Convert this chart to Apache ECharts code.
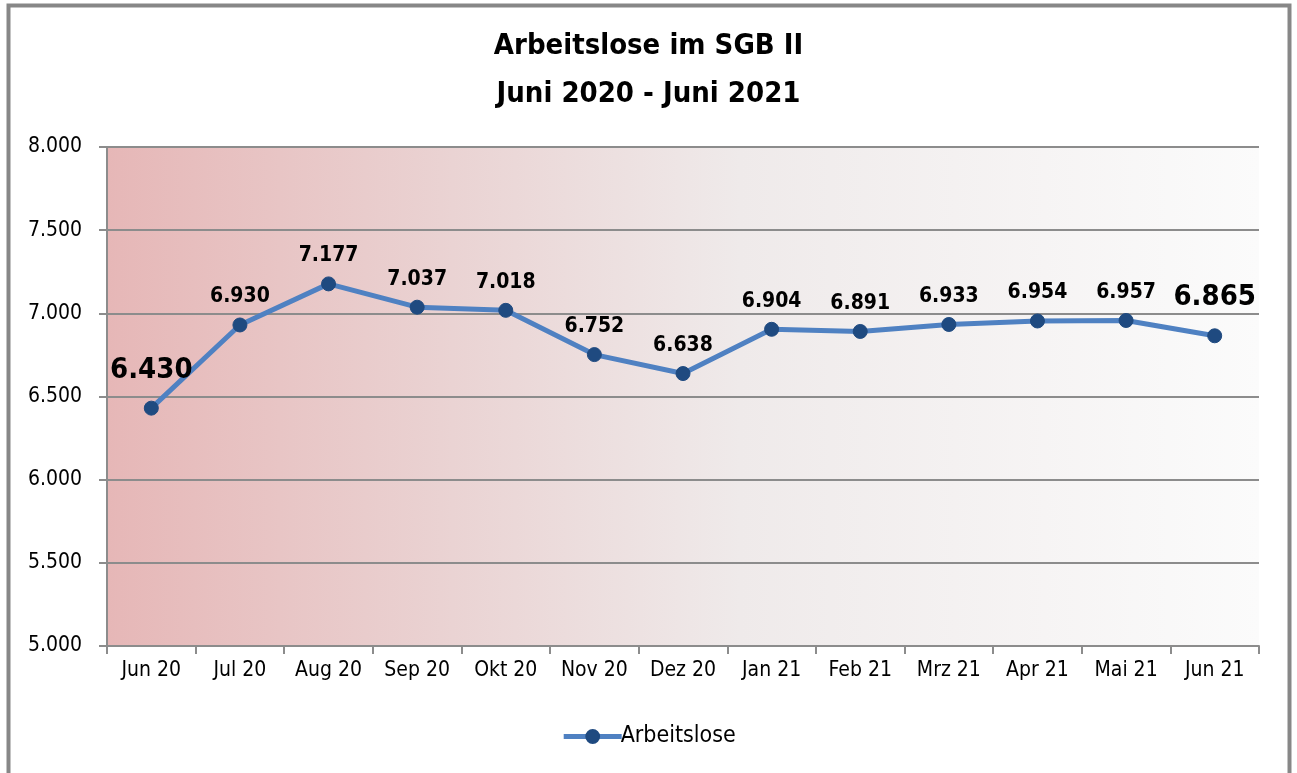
<!DOCTYPE html>
<html><head><meta charset="utf-8">
<script src="https://cdn.jsdelivr.net/npm/echarts@6/dist/echarts.min.js"></script>
<style>html,body{margin:0;padding:0;background:#fff}#c{width:1297px;height:773px}</style>
</head><body><div id="c"></div>
<script>
const categories = ['Jun 20','Jul 20','Aug 20','Sep 20','Okt 20','Nov 20','Dez 20','Jan 21','Feb 21','Mrz 21','Apr 21','Mai 21','Jun 21'];
const values = [6430, 6930, 7177, 7037, 7018, 6752, 6638, 6904, 6891, 6933, 6954, 6957, 6865];
const seriesName = 'Arbeitslose';
const titleLines = ['Arbeitslose im SGB II', 'Juni 2020 - Juni 2021'];
const yMin = 5000, yMax = 8000, yStep = 500;

const FONT = "'Liberation Sans Narrow','DejaVu Sans Condensed','Roboto Condensed',sans-serif";
const fmt = v => String(v).replace(/\B(?=(\d{3})+(?!\d))/g, '.');
const last = values.length - 1;
const data = values.map((v, i) => {
  const big = (i === 0 || i === last);
  return {
    value: v,
    label: big ? { fontSize: 29, distance: 16 } : { fontSize: 21, distance: 10 }
  };
});

const chart = echarts.init(document.getElementById('c'), null, { renderer: 'canvas' });
chart.setOption({
  animation: false,
  backgroundColor: '#ffffff',
  title: {
    text: titleLines.join('\n'),
    left: 'center', top: 17,
    textStyle: { fontFamily: FONT, fontWeight: 'bold', fontSize: 29, lineHeight: 48, color: '#000' }
  },
  graphic: [{
    type: 'rect', shape: { x: 8.5, y: 5.5, width: 1281, height: 800 },
    style: { fill: 'none', stroke: '#878787', lineWidth: 4 }, z: 100
  }],
  grid: {
    left: 107, right: 38, top: 147, bottom: 127,
    show: true, borderWidth: 0,
    backgroundColor: new echarts.graphic.LinearGradient(0, 0, 1, 0, [
      { offset: 0, color: '#e6b7b7' },
      { offset: 0.3, color: '#ead3d3' },
      { offset: 0.55, color: '#efeaea' },
      { offset: 1, color: '#fbfbfb' }
    ])
  },
  legend: {
    bottom: 20, left: 'center',
    itemWidth: 58, itemHeight: 16, itemGap: 10,
    lineStyle: { width: 5 },
    textStyle: { fontFamily: FONT, fontSize: 23, color: '#000', padding: [0, 0, 0, -6] },
    data: [seriesName]
  },
  xAxis: {
    type: 'category', data: categories, boundaryGap: true,
    axisLine: { lineStyle: { color: '#8c8c8c', width: 2 } },
    axisTick: { show: true, length: 8, lineStyle: { color: '#8c8c8c', width: 2 } },
    axisLabel: { fontFamily: FONT, fontSize: 21, color: '#000', margin: 14 }
  },
  yAxis: {
    type: 'value', min: yMin, max: yMax, interval: yStep,
    axisLine: { show: true, lineStyle: { color: '#8c8c8c', width: 2 } },
    axisTick: { show: true, length: 8, lineStyle: { color: '#8c8c8c', width: 2 } },
    splitLine: { lineStyle: { color: '#8c8c8c', width: 2 } },
    axisLabel: { fontFamily: FONT, fontSize: 21, color: '#000', margin: 25, formatter: fmt }
  },
  series: [{
    name: seriesName, type: 'line', data: data,
    symbol: 'circle', symbolSize: 14,
    lineStyle: { color: '#4f81c2', width: 5 },
    itemStyle: { color: '#1f4a80', borderColor: '#1f4a80', borderWidth: 1 },
    label: {
      show: true, position: 'top',
      fontFamily: FONT, fontWeight: 'bold', color: '#000',
      formatter: p => fmt(p.value)
    }
  }]
});
</script></body></html>
